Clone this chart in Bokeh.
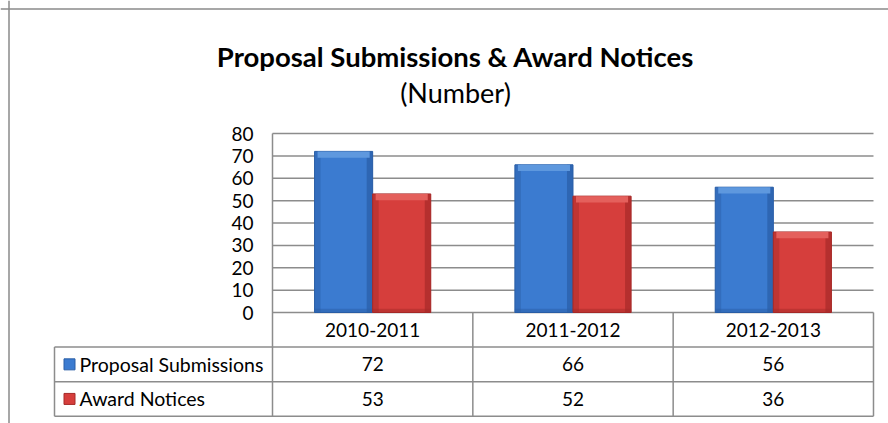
from bokeh.plotting import figure
from bokeh.models import Range1d, Label, Span
from bokeh.core.properties import value
from bokeh.embed import file_html
from bokeh.resources import INLINE

# ---- data ----
categories = ["2010-2011", "2011-2012", "2012-2013"]
series_names = ["Proposal Submissions", "Award Notices"]
proposal_submissions = [72, 66, 56]
award_notices = [53, 52, 36]
y_ticks = [0, 10, 20, 30, 40, 50, 60, 70, 80]

# ---- layout (pixels on the page) ----
FW, FH = 888, 423
CAT_PX = 200.33          # px per category
UNIT_PX = 179 / 80       # px per y unit
X0_PAGE, Y0_PAGE = 272, 312   # page position of (0, 0)

def xd(px):  # page x -> data x
    return (px - X0_PAGE) / CAT_PX

def yd(py):  # page y -> data y
    return (Y0_PAGE - py) / UNIT_PX

FONT = "Lato"
GRID = "#8c8c8c"

p = figure(width=FW, height=FH, output_backend="svg", toolbar_location=None,
           x_range=Range1d(xd(0), xd(FW)), y_range=Range1d(yd(FH), yd(0)),
           x_axis_location=None, y_axis_location=None, min_border=0)
p.grid.visible = False
p.outline_line_color = None
p.background_fill_color = "white"

n = len(categories)
ymax = y_ticks[-1]
row_h = 15.45
row_b = [-row_h, -2 * row_h, -3 * row_h]
tab_left = xd(54)

# outer chart border (top & left visible in the reference)
p.add_layout(Span(location=yd(8.5), dimension="width", line_color="#8a8a8a", line_width=1.5))
p.add_layout(Span(location=xd(8.5), dimension="height", line_color="#8a8a8a", line_width=1.5))

# gridlines
p.segment(x0=[0] * len(y_ticks), x1=[n] * len(y_ticks), y0=y_ticks, y1=y_ticks,
          line_color=GRID, line_width=1.5)
# y tick labels
p.text(x=[0] * len(y_ticks), y=y_ticks, text=[str(t) for t in y_ticks], x_offset=-19,
       text_align="right", text_baseline="middle", text_font=value(FONT),
       text_font_size="19px", text_color="black")

# table lines
p.segment(x0=[tab_left] * 3, x1=[n] * 3, y0=row_b, y1=row_b, line_color=GRID, line_width=1.5)
p.segment(x0=[0], x1=[0], y0=[ymax], y1=[row_b[-1]], line_color=GRID, line_width=1.5)
p.segment(x0=list(range(1, n + 1)), x1=list(range(1, n + 1)), y0=[0] * n, y1=[row_b[-1]] * n,
          line_color=GRID, line_width=1.5)
p.segment(x0=[tab_left], x1=[tab_left], y0=[row_b[0]], y1=[row_b[-1]], line_color=GRID, line_width=1.5)

# bars with a bevel look
bw = 0.29
colors = [("#3b7bd0", "#2a5ea6", "#5e98de"), ("#d63e3c", "#a62a28", "#e4605c")]
offsets = [-0.145, 0.145]
bev_x = 0.03
bev_y = 2.8
for vals, off, (main, dark, light) in zip([proposal_submissions, award_notices], offsets, colors):
    xs = [i + 0.5 + off for i in range(n)]
    p.vbar(x=xs, top=vals, bottom=0, width=bw, fill_color=main, line_color=dark, line_width=1)
    p.vbar(x=[x - bw / 2 + bev_x / 2 for x in xs], top=vals, bottom=0, width=bev_x,
           fill_color=dark, fill_alpha=0.45, line_color=None)
    p.vbar(x=[x + bw / 2 - bev_x / 2 for x in xs], top=vals, bottom=0, width=bev_x,
           fill_color=dark, fill_alpha=0.7, line_color=None)
    p.vbar(x=xs, top=vals, bottom=[v - bev_y for v in vals], width=bw - bev_x,
           fill_color=light, line_color=None)
    p.vbar(x=xs, top=[bev_y * 0.6] * n, bottom=0, width=bw,
           fill_color=dark, fill_alpha=0.5, line_color=None)

# table text
cx = [i + 0.5 for i in range(n)]
p.text(x=cx, y=[row_b[0] / 2] * n, text=categories, text_align="center", text_baseline="middle",
       text_font=value(FONT), text_font_size="19px", text_color="black")
for r, vals in enumerate([proposal_submissions, award_notices]):
    yc = (row_b[r] + row_b[r + 1]) / 2
    p.text(x=cx, y=[yc] * n, text=[str(v) for v in vals], text_align="center",
           text_baseline="middle", text_font=value(FONT), text_font_size="19px", text_color="black")

# legend keys and row labels
row_c = [(row_b[0] + row_b[1]) / 2, (row_b[1] + row_b[2]) / 2]
p.scatter(x=[xd(69)] * 2, y=row_c, marker="square", size=11,
          fill_color=[colors[0][0], colors[1][0]], line_color=[colors[0][1], colors[1][1]])
p.text(x=[xd(79)] * 2, y=row_c, text=series_names, text_align="left", text_baseline="middle",
       text_font=value(FONT), text_font_size="19.5px", text_color="black")

# titles
p.add_layout(Label(x=455, y=FH - 56, x_units="screen", y_units="screen",
                   text="Proposal Submissions & Award Notices", text_align="center",
                   text_baseline="alphabetic", text_font=FONT, text_font_size="27.5px",
                   text_font_style="bold", text_color="black"))
p.add_layout(Label(x=455, y=FH - 92, x_units="screen", y_units="screen",
                   text="(Number)", text_align="center", text_baseline="alphabetic",
                   text_font=FONT, text_font_size="27px", text_color="black"))

open("out.html", "w").write(file_html(p, INLINE))
